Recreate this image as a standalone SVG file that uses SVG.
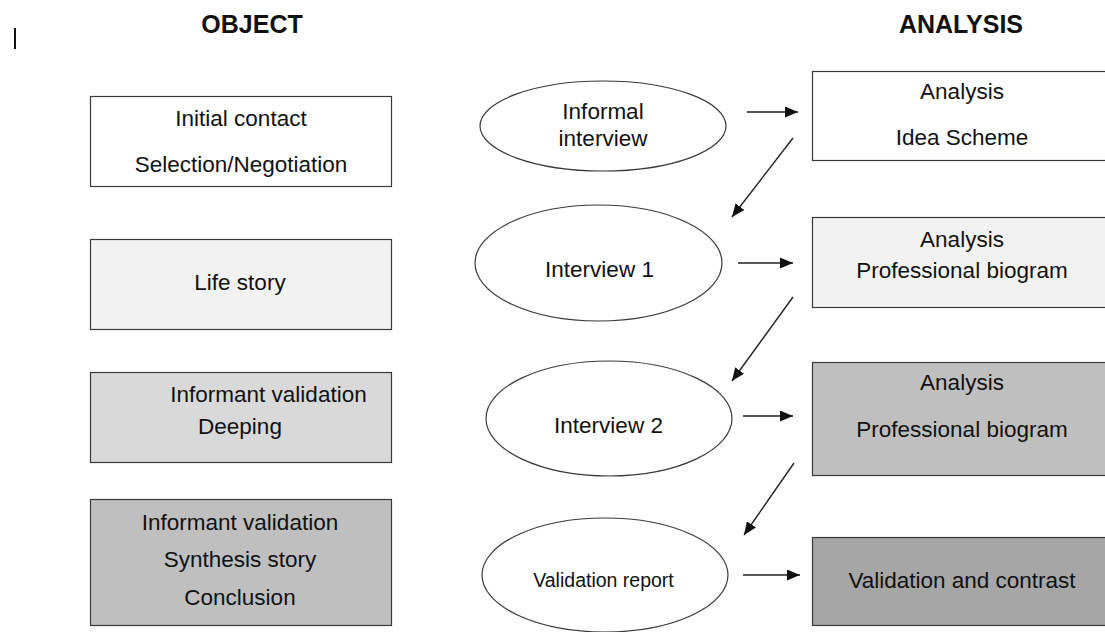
<svg xmlns="http://www.w3.org/2000/svg" width="1105" height="632" viewBox="0 0 1105 632">
<defs>
<style>
.t{font-family:"Liberation Sans",Arial,sans-serif;font-size:22.5px;fill:#111;text-anchor:middle}
.h{font-family:"Liberation Sans",Arial,sans-serif;font-size:25px;font-weight:bold;fill:#111;text-anchor:middle}
.s{font-family:"Liberation Sans",Arial,sans-serif;font-size:19.5px;fill:#111;text-anchor:middle}
.box{stroke:#3a3a3a;stroke-width:1.2}
.ell{fill:#fff;stroke:#3a3a3a;stroke-width:1.2}
.c{stroke:#222;stroke-width:1.4;fill:none;marker-end:url(#ah)}
</style>
<marker id="ah" viewBox="0 0 13 11" refX="13" refY="5.5" markerWidth="13" markerHeight="11" markerUnits="userSpaceOnUse" orient="auto">
<path d="M0,0 L13,5.5 L0,11 Z" fill="#111"/>
</marker>
</defs>
<rect width="1105" height="632" fill="#fff"/>
<line x1="15" y1="28" x2="15" y2="49" stroke="#111" stroke-width="2"/>
<text class="h" x="252" y="33">OBJECT</text>
<text class="h" x="961" y="33">ANALYSIS</text>

<g id="obj1"><rect class="box" x="90.5" y="96.5" width="301" height="90" fill="#fff"/>
<text class="t" x="241" y="126">Initial contact</text><text class="t" x="241" y="172">Selection/Negotiation</text></g>
<g id="obj2"><rect class="box" x="90.5" y="239.5" width="301" height="90" fill="#f2f2f2"/>
<text class="t" x="240" y="290">Life story</text></g>
<g id="obj3"><rect class="box" x="90.5" y="372.5" width="301" height="90" fill="#d9d9d9"/>
<text class="t" x="268.5" y="402">Informant validation</text><text class="t" x="240" y="434">Deeping</text></g>
<g id="obj4"><rect class="box" x="90.5" y="499.5" width="301" height="126" fill="#bfbfbf"/>
<text class="t" x="240" y="530">Informant validation</text><text class="t" x="240" y="567">Synthesis story</text><text class="t" x="240" y="605">Conclusion</text></g>

<g id="e1"><ellipse class="ell" cx="603" cy="126" rx="123" ry="45"/>
<text class="t" x="603" y="119">Informal</text><text class="t" x="603" y="146">interview</text></g>
<g id="e2"><ellipse class="ell" cx="598.5" cy="263" rx="123.5" ry="58"/>
<text class="t" x="599.5" y="277">Interview 1</text></g>
<g id="e3"><ellipse class="ell" cx="609" cy="418.5" rx="123" ry="57.5"/>
<text class="t" x="608.5" y="433">Interview 2</text></g>
<g id="e4"><ellipse class="ell" cx="605" cy="575" rx="123" ry="57"/>
<text class="s" x="603.5" y="587">Validation report</text></g>

<g id="a1"><rect class="box" x="812.5" y="71.5" width="300" height="89" fill="#fff"/>
<text class="t" x="962" y="99">Analysis</text><text class="t" x="962" y="145">Idea Scheme</text></g>
<g id="a2"><rect class="box" x="812.5" y="217.5" width="300" height="90" fill="#f2f2f2"/>
<text class="t" x="962" y="247">Analysis</text><text class="t" x="962" y="278">Professional biogram</text></g>
<g id="a3"><rect class="box" x="812.5" y="362.5" width="300" height="113" fill="#bfbfbf"/>
<text class="t" x="962" y="390">Analysis</text><text class="t" x="962" y="437">Professional biogram</text></g>
<g id="a4"><rect class="box" x="812.5" y="537.5" width="300" height="88" fill="#a6a6a6"/>
<text class="t" x="962" y="588">Validation and contrast</text></g>

<g id="connectors">
<line class="c" x1="747" y1="112" x2="798" y2="112"/>
<line class="c" x1="793" y1="138" x2="732" y2="217"/>
<line class="c" x1="738" y1="263" x2="793" y2="263"/>
<line class="c" x1="793" y1="297" x2="732" y2="381"/>
<line class="c" x1="743" y1="416" x2="793" y2="416"/>
<line class="c" x1="794" y1="463" x2="744" y2="535"/>
<line class="c" x1="743" y1="575" x2="800" y2="575"/>
</g>
</svg>
